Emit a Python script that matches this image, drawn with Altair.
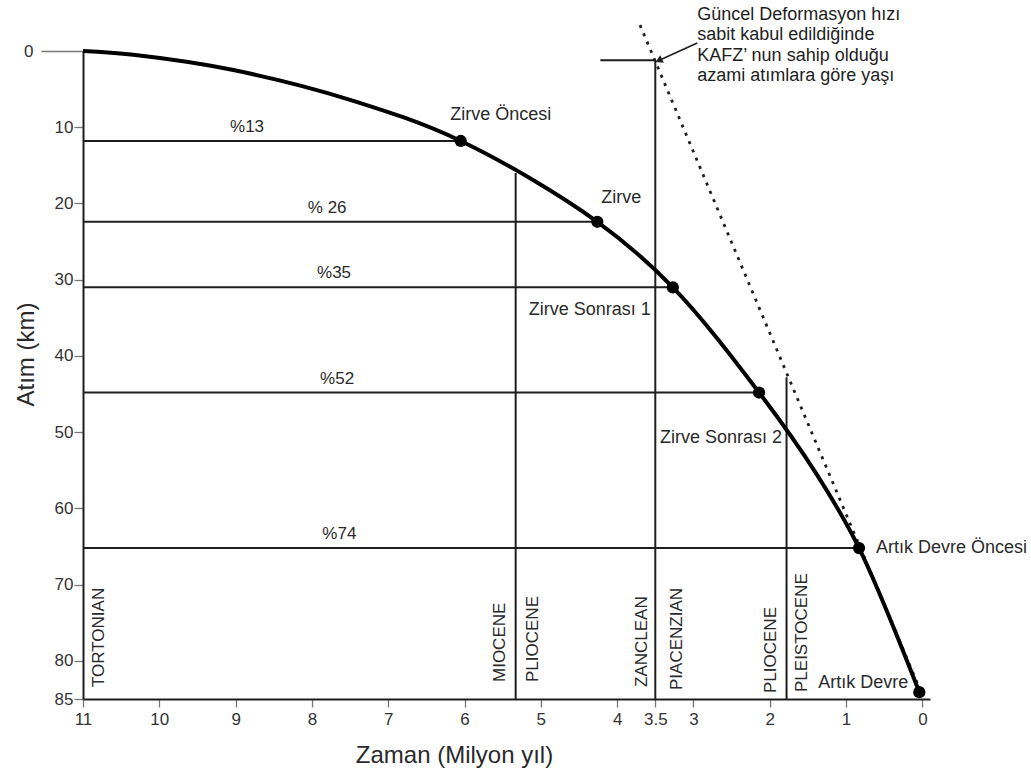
import altair as alt
import pandas as pd

FONT = "Liberation Sans"
INK = "#1e1e1e"

# Cumulative offset of the fault (km) against age (Ma)
curve_age = [11.0, 10.34, 9.03, 7.5, 6.05, 4.26, 3.27, 2.14, 1.38, 0.83, 0.04]
curve_km = [0.0, 0.5, 2.5, 6.4, 11.8, 22.4, 31.0, 44.8, 55.6, 65.2, 84.1]

# Evolution stages marked on the curve
stage_names = ["Zirve Öncesi", "Zirve", "Zirve Sonrası 1", "Zirve Sonrası 2",
               "Artık Devre Öncesi", "Artık Devre"]
stage_age = [6.05, 4.26, 3.27, 2.14, 0.83, 0.04]
stage_km = [11.8, 22.4, 31.0, 44.8, 65.2, 84.1]

# Share of the total offset reached at each stage
pct_text = ["%13", "% 26", "%35", "%52", "%74"]
pct_label_age = [8.85, 7.8, 7.71, 7.67, 7.64]

# Chronostratigraphic boundaries (Ma) and where each boundary line stops
boundary_age = [5.33, 3.5, 1.78]
boundary_top_km = [16.0, 1.2, 42.8]

# Constant present-day rate line
rate_age = [3.70, 0.0]
rate_km = [-3.4, 84.5]

# Age marker at the top of the 3.5 Ma line
marker_age = [4.22, 3.5]
marker_km = 1.2

# Arrow of the annotation (start, tip)
arrow_age = [2.95, 3.44]
arrow_km = [-1.05, 1.18]
note_lines = ["Güncel Deformasyon hızı", "sabit kabul edildiğinde",
              "KAFZ’ nun sahip olduğu", "azami atımlara göre yaşı"]

x_ticks = [11, 10, 9, 8, 7, 6, 5, 4, 3.5, 3, 2, 1, 0]
y_ticks = [0, 10, 20, 30, 40, 50, 60, 70, 80, 85]

W, H = 847, 648

x_scale = alt.Scale(domain=[11, -0.1], nice=False, zero=False)
y_scale = alt.Scale(domain=[0, 85], reverse=True, nice=False, zero=False)

x_axis = alt.Axis(
    values=x_ticks, format="~g", title="Zaman (Milyon yıl)", grid=False,
    domainColor=INK, domainWidth=2, tickColor="#777", tickWidth=1.3, tickSize=8,
    labelFont=FONT, labelFontSize=17, labelColor="#333", labelPadding=4,
    labelFlush=False, labelOverlap=False,
    titleFont=FONT, titleFontSize=24, titleFontWeight="normal", titleColor="#2a2a2a",
    titleX=371, titleY=63, titleBaseline="alphabetic",
)
y_axis = alt.Axis(
    values=y_ticks, format="d", title="Atım (km)", grid=False,
    domainColor=INK, domainWidth=2, tickColor="#777", tickWidth=1.3,
    tickSize={"condition": {"test": "datum.value === 0", "value": 42}, "value": 9},
    labelPadding={"condition": {"test": "datum.value === 0", "value": 8}, "value": 1},
    labelFont=FONT, labelFontSize=17, labelColor="#333", labelFlush=False,
    labelOverlap=False,
    titleFont=FONT, titleFontSize=24, titleFontWeight="normal", titleColor="#2a2a2a",
    titleX=-50, titleY=303, titleBaseline="alphabetic",
)


def X(field="age"):
    return alt.X(f"{field}:Q", scale=x_scale, axis=x_axis)


def Y(field="km"):
    return alt.Y(f"{field}:Q", scale=y_scale, axis=y_axis)


curve_df = pd.DataFrame({"age": curve_age, "km": curve_km})
stage_df = pd.DataFrame({"age": stage_age, "km": stage_km, "name": stage_names})

# Horizontal guides from the axis to each stage point
hline_df = pd.DataFrame({
    "age": [11.0] * 5, "age2": stage_age[:5], "km": stage_km[:5], "km2": stage_km[:5],
})
# Vertical boundary lines from the base of the plot up to where they stop
vline_df = pd.DataFrame({
    "age": boundary_age, "age2": boundary_age, "km": [85] * 3, "km2": boundary_top_km,
})
marker_df = pd.DataFrame({"age": [marker_age[0]], "age2": [marker_age[1]],
                          "km": [marker_km], "km2": [marker_km]})

rules = alt.Chart(pd.concat([hline_df, vline_df, marker_df], ignore_index=True)).mark_rule(
    color=INK, strokeWidth=2
).encode(x=X(), x2="age2:Q", y=Y(), y2="km2:Q")

rate_line = alt.Chart(pd.DataFrame({"age": rate_age, "km": rate_km})).mark_line(
    color=INK, strokeWidth=2.8, strokeDash=[3, 6]
).encode(x=X(), y=Y())

curve = alt.Chart(curve_df).mark_line(
    color="#000", strokeWidth=4, interpolate="catmull-rom"
).encode(x=X(), y=Y(), order="order:Q").transform_window(order="row_number()")

dots = alt.Chart(stage_df).mark_circle(size=150, color="#000", opacity=1).encode(
    x=X(), y=Y()
)

# Stage names beside their points
stage_offsets = [(40, -26, "center"), (24, -24, "center"), (-83, 23, "center"),
                 (-38, 45, "center"), (17, 0, "left"), (-11, -9, "right")]
stage_text = []
for i, (dx, dy, al) in enumerate(stage_offsets):
    stage_text.append(
        alt.Chart(stage_df.iloc[[i]]).mark_text(
            font=FONT, fontSize=18, color="#2a2a2a", dx=dx, dy=dy, align=al,
            baseline="middle"
        ).encode(x=X(), y=Y(), text="name:N")
    )

pct_df = pd.DataFrame({"age": pct_label_age, "km": stage_km[:5], "label": pct_text})
pct_labels = alt.Chart(pct_df).mark_text(
    font=FONT, fontSize=17, color="#2a2a2a", dy=-14, baseline="middle", align="center"
).encode(x=X(), y=Y(), text="label:N")

# Vertical stage names along the base (dx runs upward, dy to the right once rotated)
epoch_names = ["TORTONIAN", "MIOCENE", "PLIOCENE", "ZANCLEAN", "PIACENZIAN",
               "PLIOCENE", "PLEISTOCENE"]
epoch_anchor = [11.0, 5.33, 5.33, 3.5, 3.5, 1.78, 1.78]
epoch_offsets = [(12, 16), (17, -16), (17, 17), (12, -13), (9, 22), (6, -16), (7, 15)]
epoch_text = []
for name, age, (dx, dy) in zip(epoch_names, epoch_anchor, epoch_offsets):
    epoch_text.append(
        alt.Chart(pd.DataFrame({"age": [age], "km": [85], "name": [name]})).mark_text(
            font=FONT, fontSize=17, color="#2a2a2a", angle=270, align="left",
            baseline="middle", dx=dx, dy=dy
        ).encode(x=X(), y=Y(), text="name:N")
    )

arrow_df = pd.DataFrame({"age": arrow_age, "km": arrow_km})
arrow_shaft = alt.Chart(arrow_df).mark_line(color=INK, strokeWidth=1.6).encode(
    x=X(), y=Y()
)
arrow_head = alt.Chart(arrow_df.iloc[[1]]).mark_point(
    shape="triangle", angle=245, size=70, filled=True, color=INK, opacity=1
).encode(x=X(), y=Y())

note = alt.Chart(arrow_df.iloc[[0]]).mark_text(
    font=FONT, fontSize=18, color="#1e1e1e", align="left", baseline="alphabetic",
    lineHeight=20.5, dy=-23
).encode(x=X(), y=Y(), text=alt.value(note_lines))

chart = alt.layer(
    rules, rate_line, curve, dots, pct_labels, arrow_shaft, arrow_head, note,
    *stage_text, *epoch_text
).properties(
    width=W, height=H,
    autosize=alt.AutoSizeParams(type="none"),
    padding={"left": 83, "top": 51, "right": 101, "bottom": 73},
    background="white",
).configure_view(stroke=None)

chart.save("out.html", embed_options={"renderer": "svg", "actions": False})
